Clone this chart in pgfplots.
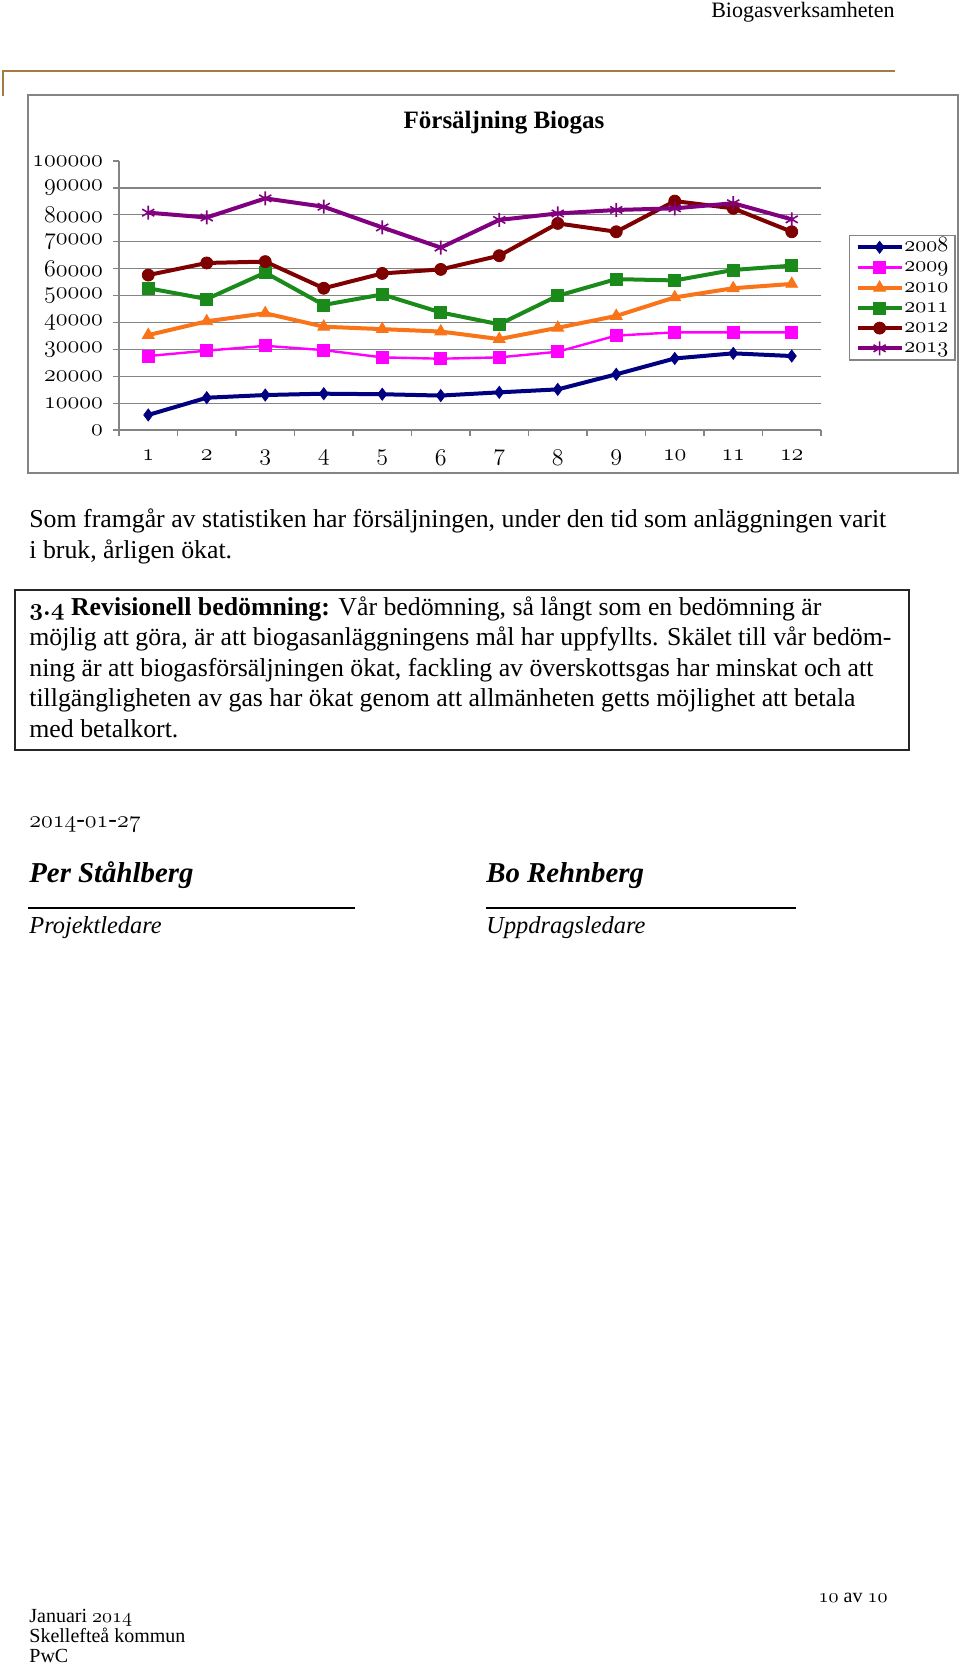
\documentclass[border=0pt]{standalone}
\usepackage{fontspec}
\setmainfont{Liberation Serif}
\usepackage{pgfplots}
\usepackage{pgfplotstable}
\pgfplotsset{compat=1.18}
\newcommand\os[1]{\ensuremath{\mathnormal{#1}}}
\definecolor{c2008}{HTML}{000080}
\definecolor{c2009}{HTML}{FF00FF}
\definecolor{c2010}{HTML}{F97418}
\definecolor{c2011}{HTML}{1A8A1A}
\definecolor{c2012}{HTML}{7F0000}
\definecolor{c2013}{HTML}{800080}
\definecolor{gold}{HTML}{A67C45}
\definecolor{gridgray}{HTML}{848484}

\pgfplotstableread{
m  y2008 y2009 y2010 y2011 y2012 y2013
1  5600  27500 35300 52700 57600 80800
2  12000 29500 40400 48700 62100 79000
3  13000 31300 43400 58500 62600 86100
4  13500 29700 38400 46500 52700 83000
5  13300 27000 37500 50400 58200 75300
6  12800 26500 36600 43700 59700 67800
7  14000 27000 33800 39300 64800 78100
8  15100 29100 38000 49900 76800 80500
9  20700 35100 42400 56100 73700 81800
10 26600 36300 49300 55600 85100 82400
11 28500 36300 52700 59500 82400 84300
12 27500 36300 54300 61100 73700 78300
}\datatable

\begin{document}
\begin{tikzpicture}[x=0.5pt,y=0.5pt]
\path[use as bounding box] (0,0) rectangle (960,-1666);
\fill[white] (0,0) rectangle (960,-1666);
% header
\node[anchor=base east, inner sep=0, font=\fontsize{11}{13}\selectfont] at (895,-17) {Biogasverksamheten};
\draw[gold, line width=1pt] (3,-96) -- (3,-71) -- (895,-71);
% chart frame
\draw[gridgray, line width=0.7pt] (28,-95) rectangle (958,-473);
\node[anchor=base, inner sep=0, font=\fontsize{12.5}{15}\selectfont\bfseries] at (504,-128.5) {Försäljning Biogas};

\begin{axis}[
  at={(59.5pt,-215pt)}, anchor=south west,
  scale only axis, width=351pt, height=134.5pt,
  xmin=0.5, xmax=12.5, ymin=0, ymax=100000,
  axis x line*=bottom, axis y line*=left,
  axis line style={gridgray, line width=0.6pt},
  tick align=outside, major tick length=3pt,
  tick style={gridgray, line width=0.6pt},
  xtick={0.5,1.5,...,12.5}, xticklabels={},
  extra x ticks={1,2,...,12},
  extra x tick labels={\os{1},\os{2},\os{3},\os{4},\os{5},\os{6},\os{7},\os{8},\os{9},\os{10},\os{11},\os{12}},
  extra x tick style={major tick length=0pt, tick style={draw=none}},
  ytick={0,10000,...,100000},
  yticklabels={\os{0},\os{10000},\os{20000},\os{30000},\os{40000},\os{50000},\os{60000},\os{70000},\os{80000},\os{90000},\os{100000}},
  extra y ticks={10000,20000,...,90000}, extra y tick labels={},
  extra y tick style={grid=major, major tick length=0pt},
  grid style={gridgray, line width=0.6pt},
  ticklabel style={font=\fontsize{12}{14}\selectfont},
  x tick label style={yshift=-6.7pt},
  y tick label style={xshift=-1.5pt},
  scaled y ticks=false,
  clip=false,
  every axis plot/.append style={line width=2pt},
  legend style={at={(1.0399,0.7249)}, anchor=north west, draw=gridgray, line width=0.6pt,
    font=\fontsize{11}{12}\selectfont, inner xsep=3pt, inner ysep=0.8pt, row sep=0pt,
    nodes={inner sep=0.4pt, text height=6.8pt, text depth=2.5pt}, cells={anchor=west}},
  legend image code/.code={\draw[mark repeat=2, mark phase=2] plot coordinates {(0pt,0pt)(11pt,0pt)(22pt,0pt)};},
]
\addplot[c2008, mark=diamond*, mark size=3pt, mark options={solid, fill=c2008, line width=0.4pt}] table[x=m, y=y2008] {\datatable};
\addplot[c2009, line width=1.2pt, mark=square*, mark size=3pt, mark options={solid, fill=c2009, line width=0.4pt}] table[x=m, y=y2009] {\datatable};
\addplot[c2010, mark=triangle*, mark size=3.4pt, mark options={solid, fill=c2010, line width=0.4pt}] table[x=m, y=y2010] {\datatable};
\addplot[c2011, mark=square*, mark size=3pt, mark options={solid, fill=c2011, line width=0.4pt}] table[x=m, y=y2011] {\datatable};
\addplot[c2012, mark=*, mark size=3pt, mark options={solid, fill=c2012, line width=0.4pt}] table[x=m, y=y2012] {\datatable};
\addplot[c2013, mark=asterisk, mark size=3.5pt, mark options={solid, line width=0.8pt}] table[x=m, y=y2013] {\datatable};
\legend{\os{2008},\os{2009},\os{2010},\os{2011},\os{2012},\os{2013}}
\end{axis}

% body text
\begin{scope}[every node/.style={anchor=base west, inner sep=0, font=\fontsize{12.9}{15.5}\selectfont}]
\node at (29,-527) {Som framgår av statistiken har försäljningen, under den tid som anläggningen varit};
\node at (29,-558) {i bruk, årligen ökat.};
\draw[black!85, line width=0.7pt] (15,-590) rectangle (909,-750);
\node at (29,-615) {\textbf{{\boldmath\os{3.4}} Revisionell bedömning:} Vår bedömning, så långt som en bedömning är};
\node at (29,-645.5) {möjlig att göra, är att biogasanläggningens mål har uppfyllts. Skälet till vår bedöm-};
\node at (29,-676) {ning är att biogasförsäljningen ökat, fackling av överskottsgas har minskat och att};
\node at (29,-706.5) {tillgängligheten av gas har ökat genom att allmänheten getts möjlighet att betala};
\node at (29,-737) {med betalkort.};
\node at (29,-827) {\os{2014}-\os{01}-\os{27}};
\node[font=\fontsize{14.4}{16}\selectfont\bfseries\itshape] at (29,-882) {Per Ståhlberg};
\node[font=\fontsize{14.4}{16}\selectfont\bfseries\itshape] at (486,-882) {Bo Rehnberg};
\draw[black, line width=0.8pt] (28,-908) -- (355,-908);
\draw[black, line width=0.8pt] (486,-908) -- (796,-908);
\node[font=\fontsize{12.2}{15.5}\selectfont\itshape] at (29,-933) {Projektledare};
\node[font=\fontsize{12.2}{15.5}\selectfont\itshape] at (486,-933) {Uppdragsledare};
\end{scope}
% footer
\begin{scope}[every node/.style={anchor=base west, inner sep=0, font=\fontsize{10}{12}\selectfont}]
\node[anchor=base east] at (888,-1602) {\os{10} av \os{10}};
\node at (29,-1622) {Januari \os{2014}};
\node at (29,-1642) {Skellefteå kommun};
\node at (29,-1662) {PwC};
\end{scope}
\end{tikzpicture}
\end{document}
